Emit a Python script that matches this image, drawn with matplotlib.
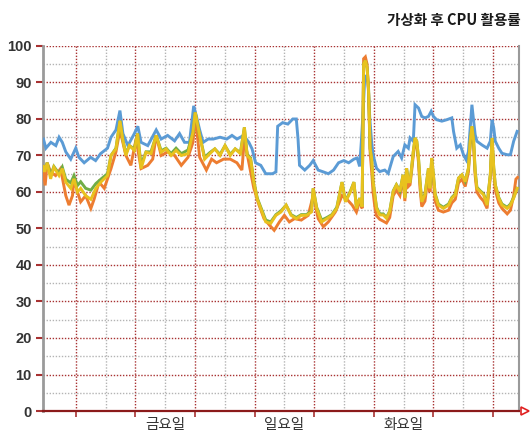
import matplotlib
matplotlib.use('Agg')
import matplotlib.pyplot as plt
from matplotlib.ticker import FixedLocator, FixedFormatter

plt.rcParams['font.family'] = ['Liberation Sans', 'Noto Sans CJK KR', 'DejaVu Sans']

title = '가상화 후 CPU 활용률'
day_hours = [48, 96, 144]
day_labels = ['금요일', '일요일', '화요일']

# (시간, CPU%) 값 - 그림에서 읽은 값
blue = [(-1, 74.5), (0, 72), (2, 73.6), (4, 72.7), (5.3, 75), (6.6, 73.6), (8, 71), (10, 69),
        (12, 72), (13.3, 69.5), (15.4, 68), (18, 69.5), (20, 68.6), (22, 70.5), (24.8, 72),
        (26.2, 75), (28.2, 77), (29.8, 82.3), (31, 76), (33, 72.7), (35.6, 76), (37, 78),
        (38.3, 73.6), (41, 72.7), (44.4, 77), (46.4, 74.5), (49, 75.5), (51.8, 74), (53.8, 76),
        (55.8, 73.6), (57.8, 73.6), (59.5, 83.6), (60.5, 81), (61.9, 77), (63.3, 73.6),
        (65.3, 74.5), (67.4, 74.5), (70.1, 75), (72.8, 74.5), (74.9, 75.5), (76.9, 74.5),
        (79.6, 75.5), (81.7, 73.6), (83, 71.8), (84.4, 68), (86.5, 67.3), (88.5, 65), (91.2, 65),
        (92.6, 65.5), (93.3, 78), (95.3, 79), (97.4, 78.6), (99.4, 80), (100.8, 80), (101.5, 74.5),
        (102.1, 67.3), (104.2, 66), (106.2, 67.3), (107.6, 68.6), (109.6, 66), (111.7, 65.5),
        (113.7, 65), (115.8, 66), (117.8, 68), (119.9, 68.6), (121.9, 68), (124, 69), (125.3, 69.3),
        (126.3, 67), (127, 74), (127.7, 82), (128.4, 92), (129.7, 90), (130.4, 80), (131.1, 73.9),
        (131.7, 70.2), (133.1, 66.5), (134.4, 65.6), (136.4, 66), (137.8, 65.1), (139.8, 69.7),
        (141.8, 71.1), (143.2, 69.3), (144.5, 72.9), (145.9, 72), (146.6, 74.8), (147.9, 73.9),
        (148.6, 83.9), (150, 83), (151.3, 80.7), (152.6, 80.3), (154, 80.7), (155.1, 82.1),
        (156, 80.7), (157.3, 79.8), (159.4, 79.4), (161.4, 79.8), (163.4, 80.3), (164.1, 76.6),
        (165.4, 72), (166.8, 72.9), (168.1, 70.2), (169.2, 68.8), (170.1, 71.1), (170.8, 77.5),
        (171.5, 83.9), (172.2, 79.4), (172.8, 75.7), (173.5, 73.9), (175.5, 72.9), (177.6, 72),
        (178.9, 73.9), (179.6, 79.8), (180.3, 77.5), (180.9, 73.9), (182.3, 72), (183.6, 70.6),
        (185.7, 70.2), (187, 70.2), (188.3, 73.9), (189.7, 76.6)]

orange = [(-1, 65.5), (-0.3, 61.8), (0.5, 68), (1.9, 65.5), (3.9, 64.5), (5.9, 66.4), (8, 59),
          (9.3, 56.4), (10.7, 59), (11.3, 63.6), (12.7, 60), (14, 57.3), (16, 59), (18.1, 55.5),
          (19.4, 58), (21.4, 62.7), (23.5, 61), (26.2, 66.4), (28.2, 71), (29.8, 77), (32.2, 70),
          (34.2, 67.3), (36.3, 74.5), (38.3, 66.4), (41, 67.3), (43, 69), (44.4, 75.5), (46.4, 70),
          (49.1, 71), (51.8, 70), (54.5, 67.3), (57.2, 69.5), (59.2, 73.6), (60.1, 81), (61.9, 69.5),
          (64.6, 66), (66.7, 69), (68.7, 68), (71.5, 69), (74.2, 69), (76.9, 68), (78.9, 66),
          (79.9, 74.5), (81.7, 68), (83.7, 61), (85.8, 56.4), (87.8, 52.7), (89.9, 51), (91.9, 49.5),
          (94, 51.8), (96, 53.6), (98, 51.8), (100.1, 52.7), (102.8, 52.3), (105.6, 53.6),
          (107.6, 59), (109.6, 52.7), (111.7, 50.5), (113.7, 51.8), (116.5, 54.5), (119.2, 59),
          (121.2, 58), (123.3, 56.4), (125, 54.5), (126.3, 57.5), (127.3, 55.5), (127.9, 96.5),
          (128.6, 97), (129.3, 95), (129.9, 87), (130.5, 71), (131.1, 66), (131.7, 60), (132.4, 56),
          (133.1, 53.5), (134.4, 52.5), (135.8, 52), (137.1, 51.5), (138.4, 53), (139.8, 59),
          (141.1, 60.5), (142.5, 59), (143.8, 64), (144.5, 57.5), (145.2, 66), (145.9, 61.5),
          (146.6, 62), (147.2, 65.5), (147.9, 70), (148.6, 74), (149.3, 73), (150, 68), (150.6, 61),
          (151.3, 56), (152.6, 57.5), (154, 65), (154.6, 60), (155.3, 68), (156, 63), (156.7, 57.5),
          (158, 55), (160, 54.5), (162.1, 55), (163.4, 57), (164.8, 58), (166.1, 62.5),
          (167.5, 63.5), (168.8, 61.5), (170.1, 65.5), (170.8, 73), (171.5, 77), (172.2, 72.5),
          (172.8, 64.5), (173.5, 60), (174.9, 58.5), (176.2, 57.5), (177.6, 55.5), (178.9, 64),
          (179.6, 74), (180.3, 65.5), (180.9, 60.5), (182.3, 57), (183.6, 55.5), (185.7, 54),
          (187, 55), (188.3, 59), (189.2, 63.5), (189.9, 64)]

green = [(-1, 67), (-0.5, 66), (0.5, 68), (1.9, 64.5), (3.2, 67), (5.3, 65), (6.6, 66.8), (8, 63.5),
         (10, 62.5), (11.3, 64.5), (12.7, 61.8), (14, 62.8), (16, 61), (18.1, 60.5), (20.1, 62.3),
         (22.1, 63.5), (24.8, 65), (26.2, 70), (28.2, 72), (29.8, 79.5), (30.9, 74.5), (32.2, 70.5),
         (33.6, 72.7), (35.6, 71.8), (36.9, 76), (38.3, 67.5), (40.3, 71), (42.3, 71), (44.4, 75.5),
         (46.4, 71.3), (48.4, 72), (50.4, 70.5), (52.4, 72), (54.5, 70.5), (57.2, 71.5), (59.2, 76.4),
         (60.1, 81.8), (61.9, 75.5), (63.9, 69.5), (66, 70.8), (68, 71.8), (70.1, 70.3), (72.1, 72.7),
         (74.2, 70.3), (76.2, 71.8), (78.3, 70.8), (79.9, 77.7), (81, 70.3), (82.4, 69.3),
         (83.7, 63), (85.1, 58.3), (86.5, 55.8), (88.5, 52.3), (90.5, 51.8), (92.6, 53.8),
         (94.6, 54.8), (96.7, 56.4), (98.7, 53.8), (100.8, 53), (102.8, 53.8), (104.9, 53.8),
         (106.9, 54.8), (107.6, 61), (109, 55.8), (111, 52.3), (113.1, 53), (115.1, 53.8),
         (117.1, 55.8), (119.2, 62.7), (120.6, 57.5), (122.6, 60.3), (124, 62.7), (125, 55.8),
         (126.3, 58.3), (127.3, 56), (127.9, 95), (128.6, 96), (129.3, 94), (129.9, 88), (130.5, 72),
         (131.1, 69.3), (131.7, 63), (132.4, 59.5), (133.1, 55.8), (134.4, 54), (135.8, 54),
         (137.1, 53), (138.4, 54.8), (139.8, 60.3), (141.1, 62), (142.5, 60.3), (143.8, 64.7),
         (144.5, 58.5), (145.2, 66.5), (145.9, 63), (146.6, 63), (147.2, 66.5), (147.9, 71.1),
         (148.6, 74.8), (149.3, 73.9), (150, 69.3), (150.6, 63), (151.3, 57.5), (152.6, 59.5),
         (154, 66.5), (154.6, 61.3), (155.3, 69.3), (156, 64.7), (156.7, 59.5), (158, 56.7),
         (160, 55.8), (162.1, 56.7), (163.4, 58.5), (164.8, 59.5), (166.1, 63.8), (167.5, 64.7),
         (168.8, 63), (170.1, 66.5), (170.8, 73.9), (171.5, 78), (172.2, 73.9), (172.8, 65.8),
         (173.5, 61.3), (174.9, 60.3), (176.2, 59.5), (177.6, 56.7), (178.9, 64.7), (179.6, 74.8),
         (180.3, 66.5), (180.9, 62), (182.3, 58.5), (183.6, 56.7), (185.7, 55.8), (187, 56.7),
         (188.3, 58.5), (189.7, 61)]

yellow = [(-1, 67), (-0.5, 65.5), (0.5, 68), (1.9, 63.6), (3.2, 66.8), (5.3, 64.5), (6.6, 66.4),
          (8, 62.7), (10, 61), (11.3, 63.6), (12.7, 60), (14, 61), (16, 59), (18.1, 58), (20.1, 61),
          (22.1, 62.7), (24.8, 64.5), (26.2, 70), (28.2, 71.8), (29.8, 79.5), (30.9, 74.5),
          (32.2, 70), (33.6, 72.7), (35.6, 71.4), (36.9, 76), (38.3, 66.4), (40.3, 70.9),
          (42.3, 70.5), (44.4, 75.5), (46.4, 70.9), (48.4, 71.8), (50.4, 70), (52.4, 71.4),
          (54.5, 70), (57.2, 70.5), (59.2, 76.4), (60.1, 81.8), (61.9, 75.5), (63.9, 69),
          (66, 70.5), (68, 71.8), (70.1, 70), (72.1, 72.7), (74.2, 70), (76.2, 71.8), (78.3, 70.5),
          (79.9, 77.7), (81, 70), (82.4, 69), (83.7, 62.7), (85.1, 58), (86.5, 55.5), (88.5, 51.8),
          (90.5, 51.4), (92.6, 53.6), (94.6, 54.5), (96.7, 56.4), (98.7, 53.6), (100.8, 52.7),
          (102.8, 53.6), (104.9, 53.6), (106.9, 54.5), (107.6, 61), (109, 55.5), (111, 51.8),
          (113.1, 52.7), (115.1, 53.6), (117.1, 55.5), (119.2, 62.7), (120.6, 57.3), (122.6, 60),
          (124, 62.7), (125, 55.5), (126.3, 58.3), (127.3, 56), (127.9, 95), (128.6, 96),
          (129.3, 94), (129.9, 88), (130.5, 72), (131.1, 69.3), (131.7, 62.8), (132.4, 59.2),
          (133.1, 55.5), (134.4, 53.7), (135.8, 53.7), (137.1, 52.8), (138.4, 54.6), (139.8, 60.1),
          (141.1, 61.9), (142.5, 60.1), (143.8, 64.7), (144.5, 58.3), (145.2, 66.5), (145.9, 62.8),
          (146.6, 62.8), (147.2, 66.5), (147.9, 71.1), (148.6, 74.8), (149.3, 73.9), (150, 69.3),
          (150.6, 62.8), (151.3, 57.3), (152.6, 59.2), (154, 66.5), (154.6, 61), (155.3, 69.3),
          (156, 64.7), (156.7, 59.2), (158, 56.4), (160, 55.5), (162.1, 56.4), (163.4, 58.3),
          (164.8, 59.2), (166.1, 63.8), (167.5, 64.7), (168.8, 62.8), (170.1, 66.5), (170.8, 73.9),
          (171.5, 78), (172.2, 73.9), (172.8, 65.6), (173.5, 61), (174.9, 60.1), (176.2, 59.2),
          (177.6, 56.4), (178.9, 64.7), (179.6, 74.8), (180.3, 66.5), (180.9, 61.9), (182.3, 58.3),
          (183.6, 56.4), (185.7, 55.5), (187, 56.4), (188.3, 58.3), (189.7, 61)]

series = [(blue, '#5B9BD5'), (orange, '#ED7D31'), (green, '#70AD47'), (yellow, '#E8C21E')]

red_grid = '#A83232'
gray_grid = '#B4B4B4'

fig = plt.figure(figsize=(5.30, 4.32), dpi=100)
ax = fig.add_axes([0.081, 0.0486, 0.898, 0.845])

for data, color in series:
    hrs = [p[0] for p in data]
    vals = [p[1] for p in data]
    ax.plot(hrs, vals, color=color, lw=2.1, solid_joinstyle='miter', zorder=3)

ax.set_xlim(-1.2, 190.4)
ax.set_ylim(0, 100)

# x축: 빨간 주 눈금(12시간), 회색 보조 눈금(하루)
red_x = list(range(12, 190, 24))
gray_x = list(range(24, 190, 24))
ax.xaxis.set_major_locator(FixedLocator(red_x))
ax.xaxis.set_major_formatter(FixedFormatter([''] * len(red_x)))
ax.xaxis.set_minor_locator(FixedLocator(gray_x))
ax.xaxis.set_minor_formatter(FixedFormatter([day_labels[day_hours.index(h)] if h in day_hours else ''
                                             for h in gray_x]))
ax.yaxis.set_major_locator(FixedLocator(range(0, 101, 10)))
ax.yaxis.set_minor_locator(FixedLocator(range(5, 100, 10)))

ax.grid(which='major', color=red_grid, ls=(0, (1, 1.2)), lw=1.0, zorder=1)
ax.grid(which='minor', color=gray_grid, ls=(0, (1, 1.2)), lw=1.0, zorder=1)

ax.tick_params(axis='x', which='major', direction='out', length=4, width=1.2, color=red_grid)
ax.tick_params(axis='x', which='minor', length=0, pad=5, labelsize=10.5, labelcolor='#333333')
ax.tick_params(axis='y', which='major', direction='out', length=5, width=1.5, color=red_grid,
               labelsize=10.5, labelcolor='#333333', pad=3)
ax.tick_params(axis='y', which='minor', length=0)
for lab in ax.get_yticklabels():
    lab.set_fontweight('bold')
for lab in ax.get_xticklabels(minor=True):
    lab.set_family(['Noto Sans CJK KR'])

ax.spines['top'].set_visible(False)
ax.spines['left'].set_color('#9A9A9A')
ax.spines['left'].set_linewidth(2.0)
ax.spines['right'].set_color('#9A9A9A')
ax.spines['right'].set_linewidth(1.5)
ax.spines['bottom'].set_color('#8B1A1A')
ax.spines['bottom'].set_linewidth(1.6)
ax.spines['bottom'].set_zorder(4)

# x축 끝 화살표
ax.plot([1.013], [0], marker='>', ms=6, mfc='white', mec='#E02020', mew=1.2,
        transform=ax.transAxes, clip_on=False)

fig.text(0.982, 0.953, title, ha='right', va='center', fontsize=10.5, fontweight='bold',
         family=['Noto Sans CJK KR'], color='#1A1A1A')

fig.savefig('out.png', dpi=100)
